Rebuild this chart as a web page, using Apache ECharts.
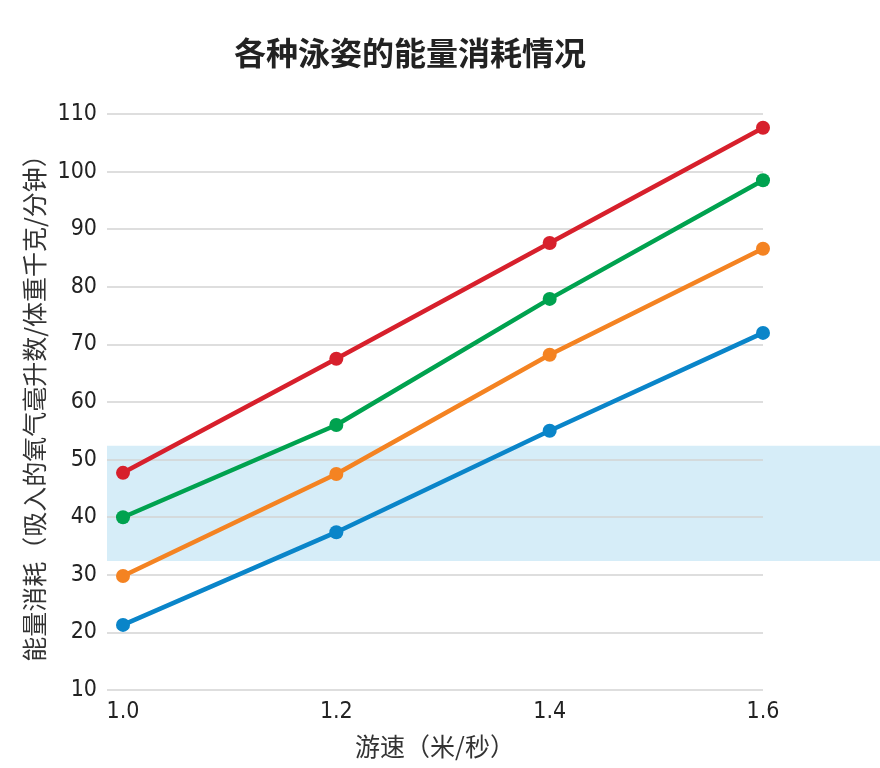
<!DOCTYPE html>
<html><head><meta charset="utf-8">
<script src="https://cdn.jsdelivr.net/npm/echarts@6/dist/echarts.min.js"></script>
<style>html,body{margin:0;padding:0;background:#fff}#c{width:880px;height:768px}</style>
</head><body><div id="c"></div>
<script>
const speeds = [1.0, 1.2, 1.4, 1.6];
const xTicks = [1.0, 1.2, 1.4, 1.6];
const redSeries = [47.7, 67.5, 87.6, 107.6];
const greenSeries = [40.0, 56.0, 77.9, 98.5];
const orangeSeries = [29.8, 47.5, 68.2, 86.6];
const blueSeries = [21.3, 37.4, 55.0, 72.0];
const bandRange = [32.4, 52.4];

const numFont = '"DejaVu Sans Condensed", "Liberation Sans Narrow", sans-serif';
const cjkFont = '"Noto Sans CJK SC", sans-serif';

function mk(name, data, color) {
  return {
    name, type: 'line', data: speeds.map((s, i) => [s, data[i]]),
    symbol: 'circle', symbolSize: 14,
    lineStyle: { width: 4.5, color }, itemStyle: { color },
    z: 3
  };
}

const chart = echarts.init(document.getElementById('c'));
chart.setOption({
  animation: false,
  title: {
    text: '各种泳姿的能量消耗情况', left: 405, top: 32, textAlign: 'center',
    textStyle: { fontFamily: cjkFont, fontWeight: 'bold', fontSize: 32, color: '#222' }
  },
  grid: { left: 107, right: 117, top: 114, bottom: 78 },
  xAxis: {
    type: 'value', min: 0.985, max: 1.6,
    axisLine: { show: false }, axisTick: { show: false }, splitLine: { show: false },
    axisLabel: {
      customValues: xTicks, margin: 11,
      formatter: v => v.toFixed(1),
      fontFamily: numFont, fontSize: 23, color: '#222'
    },
    name: '游速（米/秒）', nameLocation: 'middle', nameGap: 44,
    nameTextStyle: { fontFamily: cjkFont, fontSize: 25, color: '#333' }
  },
  yAxis: {
    type: 'value', min: 10, max: 110, interval: 10,
    axisLine: { show: false }, axisTick: { show: false },
    splitLine: { lineStyle: { color: '#d3d3d3', width: 1.5 } },
    axisLabel: { margin: 10, fontFamily: numFont, fontSize: 23, color: '#222' },
    name: '能量消耗（吸入的氧气毫升数/体重千克/分钟）', nameLocation: 'middle', nameGap: 57, nameRotate: 90,
    nameTextStyle: { fontFamily: cjkFont, fontSize: 25, color: '#333' }
  },
  series: [
    mk('red', redSeries, '#d7202c'),
    mk('green', greenSeries, '#00a24f'),
    mk('orange', orangeSeries, '#f48322'),
    mk('blue', blueSeries, '#0a85c9')
  ]
});

const yTop = chart.convertToPixel({ yAxisIndex: 0 }, bandRange[1]);
const yBot = chart.convertToPixel({ yAxisIndex: 0 }, bandRange[0]);
const xLeft = chart.convertToPixel({ xAxisIndex: 0 }, 0.985);
chart.setOption({
  graphic: [{
    type: 'rect', z: -10, silent: true,
    shape: { x: xLeft, y: yTop, width: chart.getWidth() - xLeft, height: yBot - yTop },
    style: { fill: '#d6edf8' }
  }]
});
</script>
</body></html>
